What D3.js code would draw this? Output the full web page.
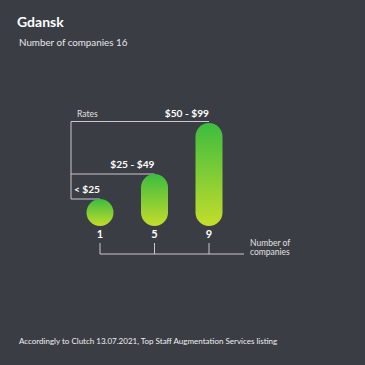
<!DOCTYPE html>
<html>
<head>
<meta charset="utf-8">
<script src="https://cdn.jsdelivr.net/npm/d3@7"></script>
<style>
  body { margin: 0; background: #3a3d44; }
  svg { display: block; font-family: Lato, "Open Sans", sans-serif; }
</style>
</head>
<body>
<script>
// rate tiers and the number of companies in each
var rates = ["< $25", "$25 - $49", "$50 - $99"];
var counts = [1, 5, 9];
var total = 16;

var W = 365, H = 365;
var base = 226, barW = 27;

var svg = d3.select("body").append("svg")
    .attr("width", W)
    .attr("height", H);

svg.append("rect").attr("width", W).attr("height", H).attr("fill", "#3a3d44");

var grad = svg.append("defs").append("linearGradient")
    .attr("id", "barGrad")
    .attr("x1", 0).attr("y1", 0).attr("x2", 0).attr("y2", 1);
grad.append("stop").attr("offset", "0%").attr("stop-color", "#3cbc3f");
grad.append("stop").attr("offset", "100%").attr("stop-color", "#c4dd2b");

var x = d3.scalePoint().domain(rates).range([100, 209]);
// bar heights aren't proportional in the original, so piecewise
var h = d3.scaleLinear().domain([1, 5, 9]).range([27, 52, 103]);

var data = rates.map(function(r, i) { return { rate: r, n: counts[i] }; });

// title
svg.append("text").attr("x", 17).attr("y", 27)
    .attr("fill", "#fff").attr("font-weight", "bold").attr("font-size", 14)
    .text("Gdansk");
svg.append("text").attr("x", 19).attr("y", 46)
    .attr("fill", "#e6e6e6").attr("font-size", 9.8)
    .text("Number of companies " + total);

var lineCol = "#c9c9cc";
var left = 71;

// rates bracket
svg.append("line")
    .attr("x1", left).attr("x2", left)
    .attr("y1", base - h(counts[2]) - 1.5).attr("y2", base - h(counts[0]))
    .attr("stroke", lineCol).attr("stroke-width", 1);

svg.selectAll(".rate-line")
    .data(data)
    .enter()
    .append("line")
    .attr("class", "rate-line")
    .attr("x1", left)
    .attr("x2", function(d) { return x(d.rate); })
    .attr("y1", function(d, i) { return base - h(d.n) - (i == 2 ? 1.5 : 0); })
    .attr("y2", function(d, i) { return base - h(d.n) - (i == 2 ? 1.5 : 0); })
    .attr("stroke", lineCol).attr("stroke-width", 1);

svg.append("text").attr("x", 77).attr("y", 117)
    .attr("fill", "#e0e0e0").attr("font-size", 8.5)
    .text("Rates");

// pills
svg.selectAll(".bar")
    .data(data)
    .enter()
    .append("rect")
    .attr("class", "bar")
    .attr("x", function(d) { return x(d.rate) - barW / 2; })
    .attr("y", function(d) { return base - h(d.n); })
    .attr("width", barW)
    .attr("height", function(d) { return h(d.n); })
    .attr("rx", barW / 2)
    .attr("fill", "url(#barGrad)");

svg.selectAll(".rate-label")
    .data(data)
    .enter()
    .append("text")
    .attr("class", "rate-label")
    .attr("x", function(d) { return x(d.rate); })
    .attr("y", function(d) { return base - h(d.n) - 6; })
    .attr("text-anchor", "end")
    .attr("fill", "#fff").attr("font-weight", "bold").attr("font-size", 10.2)
    .text(function(d) { return d.rate; });

svg.selectAll(".count-label")
    .data(data)
    .enter()
    .append("text")
    .attr("class", "count-label")
    .attr("x", function(d) { return x(d.rate); })
    .attr("y", 238)
    .attr("text-anchor", "middle")
    .attr("fill", "#fff").attr("font-weight", "bold").attr("font-size", 11)
    .text(function(d) { return d.n; });

// companies bracket
var by = 254;
svg.append("line")
    .attr("x1", x(rates[0])).attr("x2", 244)
    .attr("y1", by).attr("y2", by)
    .attr("stroke", lineCol);
svg.selectAll(".tick")
    .data(rates)
    .enter()
    .append("line")
    .attr("x1", function(d) { return x(d); })
    .attr("x2", function(d) { return x(d); })
    .attr("y1", 243).attr("y2", by)
    .attr("stroke", lineCol);

var lbl = svg.append("text").attr("x", 250).attr("y", 246)
    .attr("fill", "#e0e0e0").attr("font-size", 8.5);
lbl.append("tspan").attr("x", 250).text("Number of");
lbl.append("tspan").attr("x", 250).attr("dy", 8.5).text("companies");

svg.append("text").attr("x", 19).attr("y", 344)
    .attr("fill", "#f0f0f0").attr("font-size", 8)
    .text("Accordingly to Clutch 13.07.2021, Top Staff Augmentation Services listing");
</script>
</body>
</html>
